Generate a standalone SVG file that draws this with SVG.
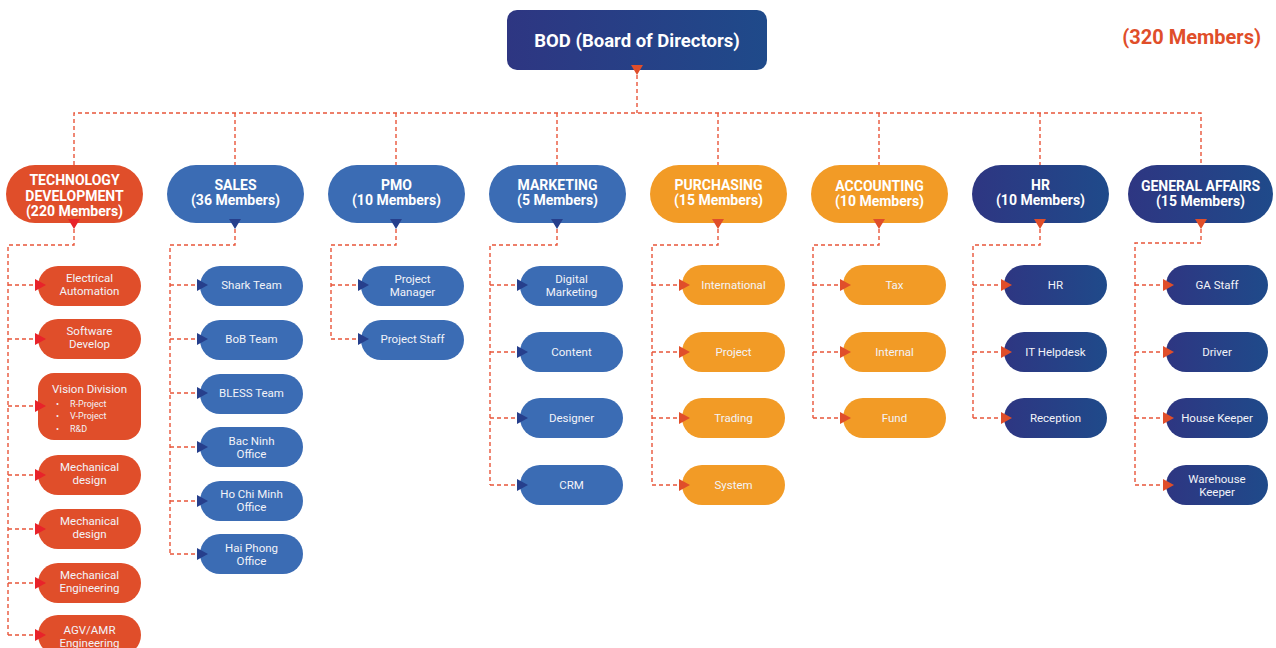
<svg xmlns="http://www.w3.org/2000/svg" width="1276" height="648" viewBox="0 0 1276 648">
<style>
.t{font-family:Roboto,"Liberation Sans",sans-serif;fill:#f2f3f8;text-anchor:middle}
.d{font-size:14px;font-weight:bold;fill:#ffffff}
.c{font-size:11.5px}
.b{font-size:9px;text-anchor:start}
.red{fill:#e04e2a}
.blue{fill:#3b6cb4}
.orange{fill:#f29b26}
.navy{fill:url(#gNavy)}
.ln{fill:none;stroke:#e8553a;stroke-width:1.4;stroke-dasharray:4 3}
</style>
<defs>
<linearGradient id="gNavy" x1="0" y1="0" x2="1" y2="0">
<stop offset="0" stop-color="#2e3682"/>
<stop offset="1" stop-color="#1f4a8a"/>
</linearGradient>
<marker id="rR" viewBox="0 0 11 12" refX="0" refY="6" markerWidth="11" markerHeight="12" markerUnits="userSpaceOnUse" orient="auto"><path d="M0,0L11,6L0,12z" fill="#e8232a"/></marker>
<marker id="rN" viewBox="0 0 11 12" refX="0" refY="6" markerWidth="11" markerHeight="12" markerUnits="userSpaceOnUse" orient="auto"><path d="M0,0L11,6L0,12z" fill="#263f8c"/></marker>
<marker id="rO" viewBox="0 0 11 12" refX="0" refY="6" markerWidth="11" markerHeight="12" markerUnits="userSpaceOnUse" orient="auto"><path d="M0,0L11,6L0,12z" fill="#e04e2a"/></marker>
<marker id="dR" viewBox="0 0 10 12" refX="10" refY="6" markerWidth="10" markerHeight="12" markerUnits="userSpaceOnUse" orient="auto"><path d="M0,0L10,6L0,12z" fill="#e8232a"/></marker>
<marker id="dN" viewBox="0 0 10 12" refX="10" refY="6" markerWidth="10" markerHeight="12" markerUnits="userSpaceOnUse" orient="auto"><path d="M0,0L10,6L0,12z" fill="#263f8c"/></marker>
<marker id="dO" viewBox="0 0 10 12" refX="10" refY="6" markerWidth="10" markerHeight="12" markerUnits="userSpaceOnUse" orient="auto"><path d="M0,0L10,6L0,12z" fill="#e04e2a"/></marker>
</defs>
<rect width="1276" height="648" fill="#ffffff"/>

<text x="1261" y="44" style="font-family:Roboto,'Liberation Sans',sans-serif;font-size:20px;font-weight:bold;fill:#e04e2a;text-anchor:end">(320 Members)</text>

<g id="bod"><rect x="507" y="10" width="260" height="60" rx="10" class="navy"/><text class="t" x="637" y="47" style="font-size:18.5px;font-weight:bold;fill:#fff">BOD (Board of Directors)</text></g>

<!-- Departments -->
<g id="dept-tech"><rect x="6" y="165" width="137" height="58" rx="29" class="red"/><text class="t d" x="74.5" y="185">TECHNOLOGY</text><text class="t d" x="74.5" y="201">DEVELOPMENT</text><text class="t d" x="74.5" y="216">(220 Members)</text></g>
<g id="dept-sales"><rect x="167" y="165" width="137" height="58" rx="29" class="blue"/><text class="t d" x="235.5" y="190">SALES</text><text class="t d" x="235.5" y="205">(36 Members)</text></g>
<g id="dept-pmo"><rect x="328" y="165" width="137" height="58" rx="29" class="blue"/><text class="t d" x="396.5" y="190">PMO</text><text class="t d" x="396.5" y="205">(10 Members)</text></g>
<g id="dept-marketing"><rect x="489" y="165" width="137" height="58" rx="29" class="blue"/><text class="t d" x="557.5" y="190">MARKETING</text><text class="t d" x="557.5" y="205">(5 Members)</text></g>
<g id="dept-purchasing"><rect x="650" y="165" width="137" height="58" rx="29" class="orange"/><text class="t d" x="718.5" y="190">PURCHASING</text><text class="t d" x="718.5" y="205">(15 Members)</text></g>
<g id="dept-accounting"><rect x="811" y="165" width="137" height="58" rx="29" class="orange"/><text class="t d" x="879.5" y="191">ACCOUNTING</text><text class="t d" x="879.5" y="206">(10 Members)</text></g>
<g id="dept-hr"><rect x="972" y="165" width="137" height="58" rx="29" class="navy"/><text class="t d" x="1040.5" y="190">HR</text><text class="t d" x="1040.5" y="205">(10 Members)</text></g>
<g id="dept-ga"><rect x="1128" y="165" width="145" height="58" rx="29" class="navy"/><text class="t d" x="1200.5" y="191">GENERAL AFFAIRS</text><text class="t d" x="1200.5" y="206">(15 Members)</text></g>

<!-- Technology children -->
<g id="tech-electrical"><rect x="38" y="266" width="103" height="40" rx="20" class="red"/><text class="t c" x="89.5" y="282">Electrical</text><text class="t c" x="89.5" y="295">Automation</text></g>
<g id="tech-software"><rect x="38" y="319" width="103" height="40" rx="20" class="red"/><text class="t c" x="89.5" y="335">Software</text><text class="t c" x="89.5" y="348">Develop</text></g>
<g id="tech-vision"><rect x="38" y="373" width="103" height="67" rx="16" class="red"/><text class="t c" x="89.5" y="393">Vision Division</text>
<text class="t b" x="56" y="407">•</text><text class="t b" x="70" y="407">R-Project</text>
<text class="t b" x="56" y="419">•</text><text class="t b" x="70" y="419">V-Project</text>
<text class="t b" x="56" y="432">•</text><text class="t b" x="70" y="432">R&amp;D</text></g>
<g id="tech-mech1"><rect x="38" y="455" width="103" height="40" rx="20" class="red"/><text class="t c" x="89.5" y="471">Mechanical</text><text class="t c" x="89.5" y="484">design</text></g>
<g id="tech-mech2"><rect x="38" y="509" width="103" height="40" rx="20" class="red"/><text class="t c" x="89.5" y="525">Mechanical</text><text class="t c" x="89.5" y="538">design</text></g>
<g id="tech-mecheng"><rect x="38" y="563" width="103" height="40" rx="20" class="red"/><text class="t c" x="89.5" y="579">Mechanical</text><text class="t c" x="89.5" y="592">Engineering</text></g>
<g id="tech-agv"><rect x="38" y="615" width="103" height="40" rx="20" class="red"/><text class="t c" x="89.5" y="634">AGV/AMR</text><text class="t c" x="89.5" y="647">Engineering</text></g>

<!-- Sales children -->
<g id="sales-shark"><rect x="200" y="266" width="103" height="40" rx="20" class="blue"/><text class="t c" x="251.5" y="289">Shark Team</text></g>
<g id="sales-bob"><rect x="200" y="320" width="103" height="40" rx="20" class="blue"/><text class="t c" x="251.5" y="343">BoB Team</text></g>
<g id="sales-bless"><rect x="200" y="374" width="103" height="40" rx="20" class="blue"/><text class="t c" x="251.5" y="397">BLESS Team</text></g>
<g id="sales-bacninh"><rect x="200" y="427" width="103" height="40" rx="20" class="blue"/><text class="t c" x="251.5" y="445">Bac Ninh</text><text class="t c" x="251.5" y="458">Office</text></g>
<g id="sales-hcm"><rect x="200" y="481" width="103" height="40" rx="20" class="blue"/><text class="t c" x="251.5" y="498">Ho Chi Minh</text><text class="t c" x="251.5" y="511">Office</text></g>
<g id="sales-haiphong"><rect x="200" y="534" width="103" height="40" rx="20" class="blue"/><text class="t c" x="251.5" y="552">Hai Phong</text><text class="t c" x="251.5" y="565">Office</text></g>

<!-- PMO children -->
<g id="pmo-manager"><rect x="361" y="266" width="103" height="40" rx="20" class="blue"/><text class="t c" x="412.5" y="283">Project</text><text class="t c" x="412.5" y="296">Manager</text></g>
<g id="pmo-staff"><rect x="361" y="320" width="103" height="40" rx="20" class="blue"/><text class="t c" x="412.5" y="343">Project Staff</text></g>

<!-- Marketing children -->
<g id="mkt-digital"><rect x="520" y="266" width="103" height="40" rx="20" class="blue"/><text class="t c" x="571.5" y="283">Digital</text><text class="t c" x="571.5" y="296">Marketing</text></g>
<g id="mkt-content"><rect x="520" y="332" width="103" height="40" rx="20" class="blue"/><text class="t c" x="571.5" y="356">Content</text></g>
<g id="mkt-designer"><rect x="520" y="398" width="103" height="40" rx="20" class="blue"/><text class="t c" x="571.5" y="422">Designer</text></g>
<g id="mkt-crm"><rect x="520" y="465" width="103" height="40" rx="20" class="blue"/><text class="t c" x="571.5" y="489">CRM</text></g>

<!-- Purchasing children -->
<g id="pur-international"><rect x="682" y="265" width="103" height="40" rx="20" class="orange"/><text class="t c" x="733.5" y="289">International</text></g>
<g id="pur-project"><rect x="682" y="332" width="103" height="40" rx="20" class="orange"/><text class="t c" x="733.5" y="356">Project</text></g>
<g id="pur-trading"><rect x="682" y="398" width="103" height="40" rx="20" class="orange"/><text class="t c" x="733.5" y="422">Trading</text></g>
<g id="pur-system"><rect x="682" y="465" width="103" height="40" rx="20" class="orange"/><text class="t c" x="733.5" y="489">System</text></g>

<!-- Accounting children -->
<g id="acc-tax"><rect x="843" y="265" width="103" height="40" rx="20" class="orange"/><text class="t c" x="894.5" y="289">Tax</text></g>
<g id="acc-internal"><rect x="843" y="332" width="103" height="40" rx="20" class="orange"/><text class="t c" x="894.5" y="356">Internal</text></g>
<g id="acc-fund"><rect x="843" y="398" width="103" height="40" rx="20" class="orange"/><text class="t c" x="894.5" y="422">Fund</text></g>

<!-- HR children -->
<g id="hr-hr"><rect x="1004" y="265" width="103" height="40" rx="20" class="navy"/><text class="t c" x="1055.5" y="289">HR</text></g>
<g id="hr-it"><rect x="1004" y="332" width="103" height="40" rx="20" class="navy"/><text class="t c" x="1055.5" y="356">IT Helpdesk</text></g>
<g id="hr-reception"><rect x="1004" y="398" width="103" height="40" rx="20" class="navy"/><text class="t c" x="1055.5" y="422">Reception</text></g>

<!-- GA children -->
<g id="ga-staff"><rect x="1166" y="265" width="102" height="40" rx="20" class="navy"/><text class="t c" x="1217" y="289">GA Staff</text></g>
<g id="ga-driver"><rect x="1166" y="332" width="102" height="40" rx="20" class="navy"/><text class="t c" x="1217" y="356">Driver</text></g>
<g id="ga-housekeeper"><rect x="1166" y="398" width="102" height="40" rx="20" class="navy"/><text class="t c" x="1217" y="422">House Keeper</text></g>
<g id="ga-warehouse"><rect x="1166" y="465" width="102" height="40" rx="20" class="navy"/><text class="t c" x="1217" y="483">Warehouse</text><text class="t c" x="1217" y="496">Keeper</text></g>

<!-- Connectors -->
<g id="connectors">
<path class="ln" d="M637,75V113" marker-start="url(#dO)"/>
<path class="ln" d="M74,165V113H1201V165M235,113V165M396,113V165M557,113V165M718,113V165M879,113V165M1040,113V165"/>

<path class="ln" d="M74,229V245H8V635" marker-start="url(#dR)"/>
<path class="ln" d="M8,285H35" marker-end="url(#rR)"/>
<path class="ln" d="M8,339H35" marker-end="url(#rR)"/>
<path class="ln" d="M8,406H35" marker-end="url(#rR)"/>
<path class="ln" d="M8,475H35" marker-end="url(#rR)"/>
<path class="ln" d="M8,529H35" marker-end="url(#rR)"/>
<path class="ln" d="M8,583H35" marker-end="url(#rR)"/>
<path class="ln" d="M8,635H35" marker-end="url(#rR)"/>

<path class="ln" d="M235,229V245H170V554" marker-start="url(#dN)"/>
<path class="ln" d="M170,285H197" marker-end="url(#rN)"/>
<path class="ln" d="M170,339H197" marker-end="url(#rN)"/>
<path class="ln" d="M170,393H197" marker-end="url(#rN)"/>
<path class="ln" d="M170,447H197" marker-end="url(#rN)"/>
<path class="ln" d="M170,501H197" marker-end="url(#rN)"/>
<path class="ln" d="M170,554H197" marker-end="url(#rN)"/>

<path class="ln" d="M396,229V245H331V339" marker-start="url(#dN)"/>
<path class="ln" d="M331,285H358" marker-end="url(#rN)"/>
<path class="ln" d="M331,339H358" marker-end="url(#rN)"/>

<path class="ln" d="M557,229V245H490V485" marker-start="url(#dN)"/>
<path class="ln" d="M490,285H517" marker-end="url(#rN)"/>
<path class="ln" d="M490,352H517" marker-end="url(#rN)"/>
<path class="ln" d="M490,418H517" marker-end="url(#rN)"/>
<path class="ln" d="M490,485H517" marker-end="url(#rN)"/>

<path class="ln" d="M718,229V245H652V485" marker-start="url(#dO)"/>
<path class="ln" d="M652,285H679" marker-end="url(#rO)"/>
<path class="ln" d="M652,352H679" marker-end="url(#rO)"/>
<path class="ln" d="M652,418H679" marker-end="url(#rO)"/>
<path class="ln" d="M652,485H679" marker-end="url(#rO)"/>

<path class="ln" d="M879,229V245H813V418" marker-start="url(#dO)"/>
<path class="ln" d="M813,285H840" marker-end="url(#rO)"/>
<path class="ln" d="M813,352H840" marker-end="url(#rO)"/>
<path class="ln" d="M813,418H840" marker-end="url(#rO)"/>

<path class="ln" d="M1040,229V245H973V418" marker-start="url(#dO)"/>
<path class="ln" d="M973,285H1001" marker-end="url(#rO)"/>
<path class="ln" d="M973,352H1001" marker-end="url(#rO)"/>
<path class="ln" d="M973,418H1001" marker-end="url(#rO)"/>

<path class="ln" d="M1201,229V243H1135V485" marker-start="url(#dO)"/>
<path class="ln" d="M1135,285H1163" marker-end="url(#rO)"/>
<path class="ln" d="M1135,352H1163" marker-end="url(#rO)"/>
<path class="ln" d="M1135,418H1163" marker-end="url(#rO)"/>
<path class="ln" d="M1135,485H1163" marker-end="url(#rO)"/>
</g>
</svg>
